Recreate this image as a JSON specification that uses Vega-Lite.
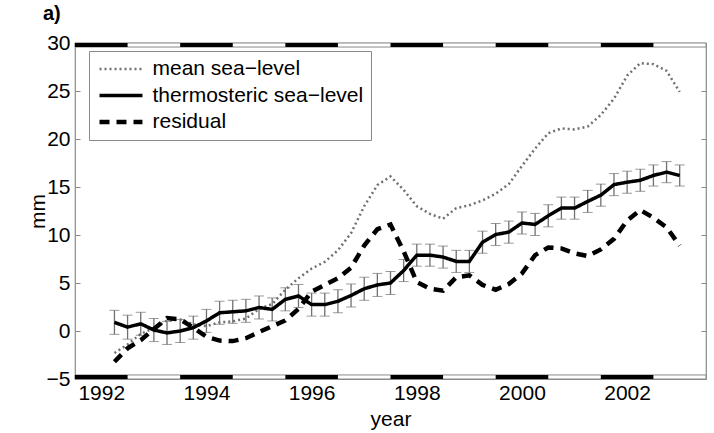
{
  "$schema": "https://vega.github.io/schema/vega-lite/v6.json",
  "width": 631,
  "height": 336,
  "autosize": "none",
  "padding": {"left": 75, "top": 43, "right": 8, "bottom": 54},
  "title": {"text": "a)", "anchor": "start", "frame": "group", "dx": -32, "fontSize": 20, "fontWeight": "bold", "font": "Liberation Sans", "offset": 8, "color": "black"},
  "config": {
    "font": "Liberation Sans",
    "view": {"stroke": "#8a8a8a", "strokeWidth": 1.2},
    "axis": {"grid": false, "domain": false, "labelFont": "Liberation Sans", "labelFontSize": 21, "labelColor": "black", "titleFont": "Liberation Sans", "titleFontSize": 21, "titleFontWeight": "normal", "titleColor": "black"},
    "legend": {"orient": "none", "legendX": 14, "legendY": 8, "symbolType": "M-1,0H4.73", "symbolSize": 225, "labelFont": "Liberation Sans", "labelFontSize": 21, "labelColor": "black", "strokeColor": "#8a8a8a", "fillColor": "white", "padding": 7.5, "rowPadding": 4.5, "labelOffset": 35, "labelLimit": 400}
  },
  "datasets": {
    "sea": [
      {"t": 1992.75, "msl": -2.3, "thermo": 0.9, "residual": -3.2, "err": 1.25},
      {"t": 1993.0, "msl": -1.4, "thermo": 0.4, "residual": -1.8, "err": 1.25},
      {"t": 1993.25, "msl": -0.3, "thermo": 0.75, "residual": -0.95, "err": 1.2},
      {"t": 1993.5, "msl": 0.3, "thermo": 0.1, "residual": 0.2, "err": 1.2},
      {"t": 1993.75, "msl": 1.1, "thermo": -0.2, "residual": 1.35, "err": 1.2},
      {"t": 1994.0, "msl": 1.2, "thermo": 0.0, "residual": 1.2, "err": 1.2},
      {"t": 1994.25, "msl": 0.7, "thermo": 0.35, "residual": 0.35, "err": 1.2},
      {"t": 1994.5, "msl": 0.5, "thermo": 1.05, "residual": -0.6, "err": 1.2},
      {"t": 1994.75, "msl": 0.9, "thermo": 1.9, "residual": -1.0, "err": 1.2},
      {"t": 1995.0, "msl": 1.0, "thermo": 2.0, "residual": -1.05, "err": 1.2},
      {"t": 1995.25, "msl": 1.3, "thermo": 2.1, "residual": -0.75, "err": 1.2},
      {"t": 1995.5, "msl": 2.3, "thermo": 2.45, "residual": -0.1, "err": 1.2},
      {"t": 1995.75, "msl": 2.8, "thermo": 2.25, "residual": 0.5, "err": 1.2},
      {"t": 1996.0, "msl": 4.3, "thermo": 3.3, "residual": 1.1, "err": 1.2},
      {"t": 1996.25, "msl": 5.5, "thermo": 3.65, "residual": 2.3, "err": 1.2},
      {"t": 1996.5, "msl": 6.5, "thermo": 2.75, "residual": 4.1, "err": 1.2},
      {"t": 1996.75, "msl": 7.2, "thermo": 2.75, "residual": 4.8, "err": 1.2},
      {"t": 1997.0, "msl": 8.4, "thermo": 3.1, "residual": 5.5, "err": 1.2},
      {"t": 1997.25, "msl": 10.2, "thermo": 3.7, "residual": 6.6, "err": 1.2},
      {"t": 1997.5, "msl": 13.0, "thermo": 4.4, "residual": 8.9, "err": 1.2},
      {"t": 1997.75, "msl": 15.2, "thermo": 4.8, "residual": 10.6, "err": 1.2},
      {"t": 1998.0, "msl": 16.1, "thermo": 5.0, "residual": 11.1, "err": 1.2},
      {"t": 1998.25, "msl": 14.7, "thermo": 6.3, "residual": 8.3, "err": 1.15},
      {"t": 1998.5, "msl": 13.0, "thermo": 7.9, "residual": 5.1, "err": 1.15},
      {"t": 1998.75, "msl": 12.2, "thermo": 7.9, "residual": 4.4, "err": 1.15},
      {"t": 1999.0, "msl": 11.7, "thermo": 7.7, "residual": 4.2, "err": 1.15},
      {"t": 1999.25, "msl": 12.8, "thermo": 7.25, "residual": 5.6, "err": 1.15},
      {"t": 1999.5, "msl": 13.1, "thermo": 7.25, "residual": 5.8, "err": 1.15},
      {"t": 1999.75, "msl": 13.6, "thermo": 9.25, "residual": 4.8, "err": 1.15},
      {"t": 2000.0, "msl": 14.3, "thermo": 10.05, "residual": 4.3, "err": 1.15},
      {"t": 2000.25, "msl": 15.3, "thermo": 10.3, "residual": 4.9, "err": 1.15},
      {"t": 2000.5, "msl": 17.2, "thermo": 11.25, "residual": 6.0, "err": 1.15},
      {"t": 2000.75, "msl": 19.0, "thermo": 11.1, "residual": 7.9, "err": 1.15},
      {"t": 2001.0, "msl": 20.6, "thermo": 12.0, "residual": 8.7, "err": 1.15},
      {"t": 2001.25, "msl": 21.1, "thermo": 12.8, "residual": 8.6, "err": 1.15},
      {"t": 2001.5, "msl": 21.0, "thermo": 12.8, "residual": 8.1, "err": 1.15},
      {"t": 2001.75, "msl": 21.3, "thermo": 13.5, "residual": 7.8, "err": 1.15},
      {"t": 2002.0, "msl": 22.5, "thermo": 14.15, "residual": 8.5, "err": 1.15},
      {"t": 2002.25, "msl": 24.2, "thermo": 15.25, "residual": 9.6, "err": 1.15},
      {"t": 2002.5, "msl": 26.6, "thermo": 15.5, "residual": 11.5, "err": 1.15},
      {"t": 2002.75, "msl": 27.9, "thermo": 15.7, "residual": 12.6, "err": 1.15},
      {"t": 2003.0, "msl": 27.8, "thermo": 16.2, "residual": 11.8, "err": 1.1},
      {"t": 2003.25, "msl": 27.1, "thermo": 16.55, "residual": 10.8, "err": 1.1},
      {"t": 2003.5, "msl": 24.9, "thermo": 16.2, "residual": 8.9, "err": 1.1}
    ],
    "years": [
      {"start": 1992, "end": 1993},
      {"start": 1994, "end": 1995},
      {"start": 1996, "end": 1997},
      {"start": 1998, "end": 1999},
      {"start": 2000, "end": 2001},
      {"start": 2002, "end": 2003}
    ]
  },
  "resolve": {"axis": {"y": "independent"}},
  "layer": [
    {
      "data": {"name": "sea"},
      "mark": {"type": "errorbar", "ticks": {"size": 10, "color": "#707070", "strokeWidth": 1.3}, "rule": {"color": "#707070", "strokeWidth": 1.3}},
      "encoding": {
        "x": {"field": "t", "type": "quantitative", "title": "year", "scale": {"domain": [1992, 2004], "nice": false, "zero": false}},
        "y": {"field": "thermo", "type": "quantitative", "title": null, "scale": {"domain": [-5, 30], "nice": false, "zero": false},
              "axis": {"orient": "right", "labels": false, "tickSize": -5, "tickColor": "#8a8a8a", "values": [-5, 0, 5, 10, 15, 20, 25, 30], "title": null}},
        "yError": {"field": "err"}
      }
    },
    {
      "data": {"name": "sea"},
      "transform": [{"fold": ["msl", "thermo", "residual"], "as": ["series", "mm"]}],
      "mark": {"type": "line", "interpolate": "linear"},
      "encoding": {
        "x": {"field": "t", "type": "quantitative", "title": "year",
              "scale": {"domain": [1992, 2004], "nice": false, "zero": false},
              "axis": {"values": [1992.5, 1994.5, 1996.5, 1998.5, 2000.5, 2002.5], "labelExpr": "floor(datum.value)", "ticks": false, "labelPadding": 3, "titlePadding": 5}},
        "y": {"field": "mm", "type": "quantitative", "title": "mm",
              "scale": {"domain": [-5, 30], "nice": false, "zero": false},
              "axis": {"values": [-5, 0, 5, 10, 15, 20, 25, 30], "tickSize": -5, "tickColor": "#8a8a8a", "labelPadding": 10, "titlePadding": -2}},
        "color": {"field": "series", "type": "nominal", "title": null,
                  "scale": {"domain": ["msl", "thermo", "residual"], "range": ["#707070", "black", "black"]},
                  "legend": {"labelExpr": "datum.label == 'msl' ? 'mean sea−level' : datum.label == 'thermo' ? 'thermosteric sea−level' : 'residual'"}},
        "strokeDash": {"field": "series", "type": "nominal", "title": null,
                  "scale": {"domain": ["msl", "thermo", "residual"], "range": [[2, 3], [1, 0], [10, 7]]},
                  "legend": {"labelExpr": "datum.label == 'msl' ? 'mean sea−level' : datum.label == 'thermo' ? 'thermosteric sea−level' : 'residual'"}},
        "strokeWidth": {"field": "series", "type": "nominal", "title": null,
                  "scale": {"domain": ["msl", "thermo", "residual"], "range": [2.5, 4.5, 4.5]},
                  "legend": {"labelExpr": "datum.label == 'msl' ? 'mean sea−level' : datum.label == 'thermo' ? 'thermosteric sea−level' : 'residual'"}},
        "order": {"field": "t", "type": "quantitative"}
      }
    },
    {
      "data": {"values": [{}]},
      "mark": {"type": "rect", "fill": "white", "stroke": "#8a8a8a", "strokeWidth": 1},
      "encoding": {
        "x": {"datum": 1992, "type": "quantitative"},
        "x2": {"datum": 2004},
        "y": {"datum": 30, "type": "quantitative", "axis": null},
        "y2": {"datum": 29.58}
      }
    },
    {
      "data": {"values": [{}]},
      "mark": {"type": "rect", "fill": "white", "stroke": "#8a8a8a", "strokeWidth": 1},
      "encoding": {
        "x": {"datum": 1992, "type": "quantitative"},
        "x2": {"datum": 2004},
        "y": {"datum": -5, "type": "quantitative", "axis": null},
        "y2": {"datum": -4.58}
      }
    },
    {
      "data": {"name": "years"},
      "mark": {"type": "rect", "fill": "black"},
      "encoding": {
        "x": {"field": "start", "type": "quantitative", "title": "year"},
        "x2": {"field": "end"},
        "y": {"datum": 30, "type": "quantitative", "axis": null},
        "y2": {"datum": 29.58}
      }
    },
    {
      "data": {"name": "years"},
      "mark": {"type": "rect", "fill": "black"},
      "encoding": {
        "x": {"field": "start", "type": "quantitative", "title": "year"},
        "x2": {"field": "end"},
        "y": {"datum": -5, "type": "quantitative", "axis": null},
        "y2": {"datum": -4.58}
      }
    }
  ]
}
